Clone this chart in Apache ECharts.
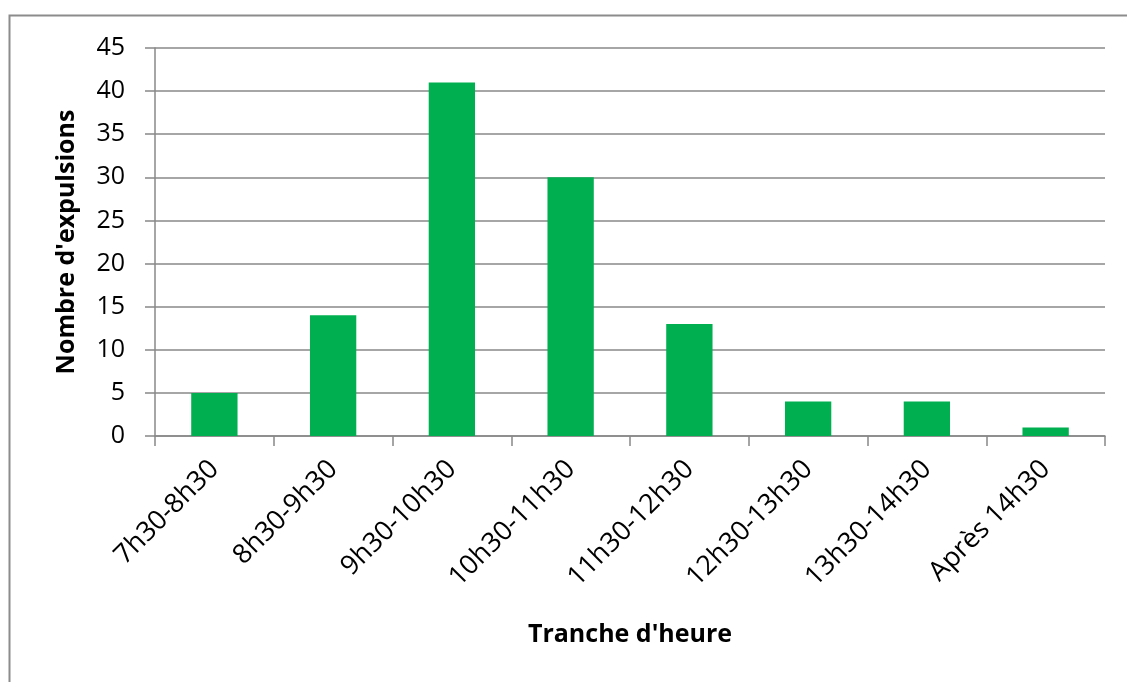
<!DOCTYPE html>
<html>
<head>
<meta charset="utf-8">
<script src="https://cdn.jsdelivr.net/npm/echarts@6/dist/echarts.min.js"></script>
<style>
  html, body { margin: 0; padding: 0; background: #fff; }
  #chart { width: 1127px; height: 682px; }
</style>
</head>
<body>
<div id="chart"></div>
<script>
// tranches horaires
const categories = ["7h30-8h30", "8h30-9h30", "9h30-10h30", "10h30-11h30", "11h30-12h30", "12h30-13h30", "13h30-14h30", "Après 14h30"];
// nombre d'expulsions
const values = [5, 14, 41, 30, 13, 4, 4, 1];

let myChart = echarts.init(document.getElementById("chart"));
let font = "'Open Sans', 'Noto Sans', sans-serif";
let option = {
  backgroundColor: "#fff",
  animation: false,
  graphic: [
    { // cadre du graphique
      type: "rect",
      left: 7, top: 13,
      shape: { width: 1130, height: 700 },
      style: { fill: "none", stroke: "#8c8c8c", lineWidth: 2 },
    },
  ],
  grid: {
    left: 155,
    right: 22,
    top: 48,
    bottom: 246,
  },
  xAxis: {
    type: "category",
    data: categories,
    name: "Tranche d'heure",
    nameLocation: "middle",
    nameGap: 186,
    nameTextStyle: { fontFamily: font, fontSize: 25, fontWeight: "bold", color: "#000" },
    axisLine: { lineStyle: { color: "#888", width: 1.5 } },
    axisTick: { show: true, length: 10, lineStyle: { color: "#888", width: 1.5 } },
    axisLabel: {
      rotate: 45,
      margin: 29,
      interval: 0,
      fontFamily: font,
      fontSize: 27,
      color: "#000",
    },
  },
  yAxis: {
    type: "value",
    min: 0,
    max: 45,
    interval: 5,
    name: "Nombre d'expulsions",
    nameLocation: "middle",
    nameGap: 76,
    nameTextStyle: { fontFamily: font, fontSize: 25, fontWeight: "bold", color: "#000" },
    axisLine: { show: true, lineStyle: { color: "#888", width: 1.5 } },
    axisTick: { show: true, length: 10, lineStyle: { color: "#888", width: 1.5 } },
    axisLabel: { margin: 30, fontFamily: font, fontSize: 25, color: "#000" },
    splitLine: { show: true, lineStyle: { color: "#888", width: 1.5 } },
  },
  series: [
    {
      type: "bar",
      data: values,
      barWidth: "39%",
      itemStyle: { color: "#00B050" },
    },
  ],
};
myChart.setOption(option);
</script>
</body>
</html>
